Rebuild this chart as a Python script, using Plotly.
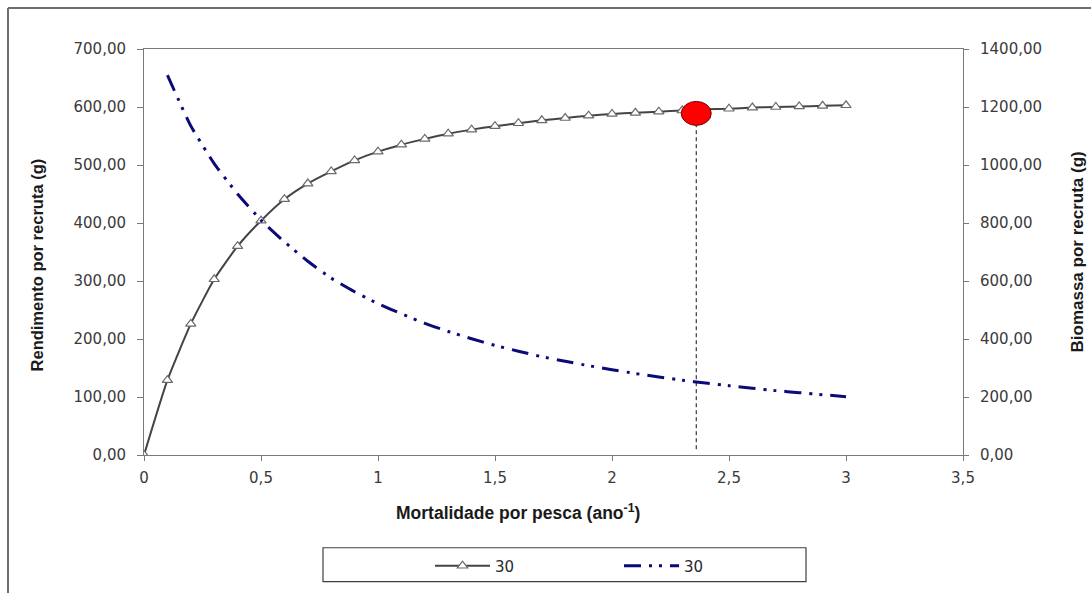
import plotly.graph_objects as go

# Fishing mortality F (year^-1)
mortalidade = [0.0, 0.1, 0.2, 0.3, 0.4, 0.5, 0.6, 0.7, 0.8, 0.9, 1.0,
               1.1, 1.2, 1.3, 1.4, 1.5, 1.6, 1.7, 1.8, 1.9, 2.0,
               2.1, 2.2, 2.3, 2.4, 2.5, 2.6, 2.7, 2.8, 2.9, 3.0]

# Yield per recruit (g), left axis
rendimento = [0, 129, 226, 303, 360, 404, 441, 468, 489, 508, 523,
              535, 545, 554, 561, 567, 572, 577, 581, 585, 588,
              590, 592, 594, 596, 597, 599, 600, 601, 602, 603]

# Biomass per recruit (g), right axis (series starts at F = 0.1)
mortalidade_b = mortalidade[1:]
biomassa = [1310, 1135, 1005, 900, 810, 735, 668, 610, 563, 522,
            487, 454, 426, 401, 378, 358, 339, 323, 308, 294,
            281, 269, 258, 248, 239, 230, 222, 215, 208, 201]

# Maximum of the yield curve
f_otimo = 2.36
rend_otimo = 589

serie_nome = "30"
x_ticks = [0, 0.5, 1, 1.5, 2, 2.5, 3, 3.5]
x_tick_text = ["0", "0,5", "1", "1,5", "2", "2,5", "3", "3,5"]

W, H = 1091, 593
L, R, T, B = 144, 963, 49, 456


def px_x(p):
    return (p - L) / (R - L)


def px_y(p):
    return 1 - (p - T) / (B - T)


TICK_FONT = dict(family="DejaVu Sans", size=15, color="#3a3a3a")
AXIS_GRAY = "#7a7a7a"

fig = go.Figure()

fig.add_trace(go.Scatter(
    x=mortalidade, y=rendimento, name=serie_nome,
    mode="lines+markers",
    line=dict(color="#444444", width=2, shape="spline", smoothing=0.5),
    marker=dict(symbol="triangle-up", size=9, color="white",
                line=dict(color="#6a6a6a", width=1.2)),
    yaxis="y",
))

fig.add_trace(go.Scatter(
    x=mortalidade_b, y=biomassa, name=serie_nome,
    mode="lines",
    line=dict(color="#0a0a78", width=3, shape="spline", smoothing=0.5,
              dash="17px,8px,3px,7px,3px,8px"),
    yaxis="y2",
))

# Dashed drop line from the optimum down to the axis
fig.add_trace(go.Scatter(
    x=[f_otimo, f_otimo], y=[10, rend_otimo],
    mode="lines", showlegend=False, hoverinfo="skip",
    line=dict(color="#111111", width=1, dash="4px,3px"),
))

shapes = [
    # Highlight ellipse at the optimum
    dict(type="circle", xref="x", yref="y",
         xsizemode="pixel", ysizemode="pixel",
         xanchor=f_otimo, yanchor=rend_otimo,
         x0=-15, x1=15, y0=-12, y1=12,
         fillcolor="#ff0000", line=dict(color="#7a0000", width=1),
         layer="above"),
    # Chart frame (left and top edges)
    dict(type="line", xref="paper", yref="paper",
         x0=px_x(8), x1=px_x(8), y0=px_y(8), y1=px_y(600),
         line=dict(color="#6e6e6e", width=2)),
    dict(type="line", xref="paper", yref="paper",
         x0=px_x(8), x1=px_x(1100), y0=px_y(8), y1=px_y(8),
         line=dict(color="#6e6e6e", width=2)),
    # Legend frame
    dict(type="rect", xref="paper", yref="paper",
         x0=px_x(323), x1=px_x(806), y0=px_y(549), y1=px_y(583),
         line=dict(color="#404040", width=1.2), fillcolor="rgba(0,0,0,0)"),
]

annotations = [
    dict(text="<b>Rendimento por recruta (g)</b>", xref="paper", yref="paper",
         x=px_x(37), y=px_y(266), textangle=-90, showarrow=False,
         font=dict(family="Liberation Sans, Arial", size=16.5, color="#1a1a1a"),
         xanchor="center", yanchor="middle"),
    dict(text="<b>Biomassa por recruta (g)</b>", xref="paper", yref="paper",
         x=px_x(1077), y=px_y(253), textangle=-90, showarrow=False,
         font=dict(family="Liberation Sans, Arial", size=17, color="#1a1a1a"),
         xanchor="center", yanchor="middle"),
    dict(text="<b>Mortalidade por pesca (ano<sup>-1</sup>)</b>", xref="paper", yref="paper",
         x=px_x(518), y=px_y(513), showarrow=False,
         font=dict(family="Liberation Sans, Arial", size=17.5, color="#1a1a1a"),
         xanchor="center", yanchor="middle"),
]

fig.update_layout(
    width=W, height=H,
    margin=dict(l=L, r=W - R, t=T, b=H - B, pad=0),
    paper_bgcolor="white", plot_bgcolor="white",
    separators=",.",
    showlegend=True,
    legend=dict(orientation="h", x=px_x(430), y=px_y(566),
                xanchor="left", yanchor="middle",
                bgcolor="rgba(0,0,0,0)", borderwidth=0,
                itemwidth=55,
                entrywidth=119, entrywidthmode="pixels",
                font=dict(family="DejaVu Sans", size=15, color="#2a2a2a"),
                itemclick=False),
    xaxis=dict(range=[0, 3.5], tickvals=x_ticks, ticktext=x_tick_text,
               showgrid=False, zeroline=False, showline=True, mirror=True,
               linecolor=AXIS_GRAY, linewidth=1,
               ticks="outside", ticklen=5, tickcolor=AXIS_GRAY,
               tickfont=TICK_FONT, ticklabelstandoff=4),
    yaxis=dict(range=[0, 700], dtick=100, tickformat=".2f",
               showgrid=False, zeroline=False, showline=True,
               linecolor=AXIS_GRAY, linewidth=1,
               ticks="outside", ticklen=6, tickcolor=AXIS_GRAY,
               tickfont=TICK_FONT, ticklabelstandoff=8),
    yaxis2=dict(range=[0, 1400], dtick=200, tickformat=".2f",
                overlaying="y", side="right",
                showgrid=False, zeroline=False, showline=True,
                linecolor=AXIS_GRAY, linewidth=1,
                ticks="outside", ticklen=5, tickcolor=AXIS_GRAY,
                tickfont=TICK_FONT, ticklabelstandoff=8),
    shapes=shapes,
    annotations=annotations,
)

fig.write_html("out.html")
